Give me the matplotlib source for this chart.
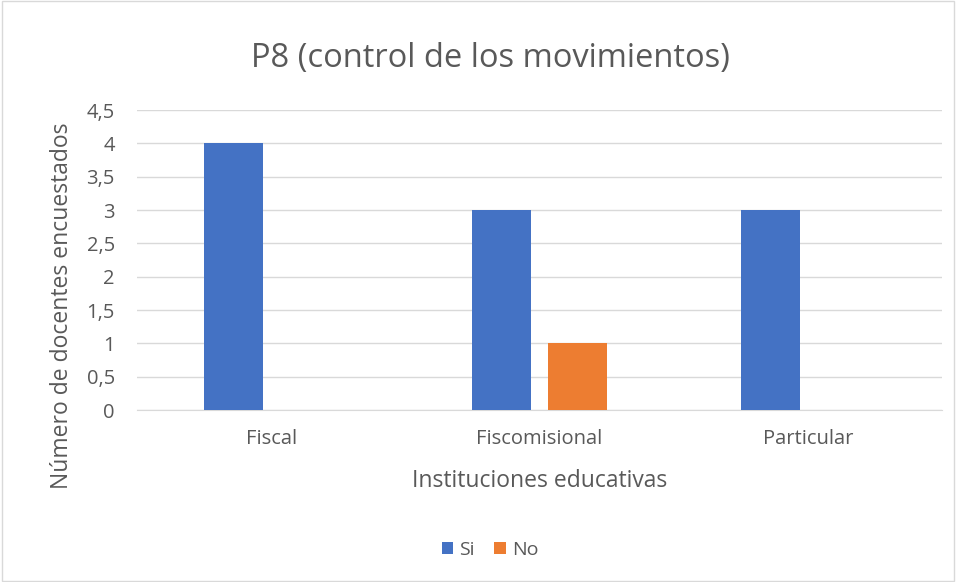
import matplotlib.pyplot as plt
import numpy as np
from matplotlib.patches import Rectangle

categories = ['Fiscal', 'Fiscomisional', 'Particular']
si_values = [4, 3, 3]
no_values = [0, 1, 0]
y_ticks = [0, 0.5, 1, 1.5, 2, 2.5, 3, 3.5, 4, 4.5]
y_tick_labels = ['0', '0,5', '1', '1,5', '2', '2,5', '3', '3,5', '4', '4,5']

plt.rcParams['font.family'] = ['Open Sans', 'DejaVu Sans']
txt = '#595959'

fig = plt.figure(figsize=(9.56, 5.82), dpi=100)
ax = fig.add_axes([137 / 956, 1 - 410 / 582, 805 / 956, 300 / 582])

x = np.arange(len(categories))
width = 0.22
offset = 0.14
ax.bar(x - offset, si_values, width, color='#4472C4', label='Si', zorder=3)
ax.bar(x + offset, no_values, width, color='#ED7D31', label='No', zorder=3)

ax.set_xlim(-0.5, len(categories) - 0.5)
ax.set_ylim(0, 4.5)
ax.set_yticks(y_ticks)
ax.set_yticklabels(y_tick_labels, fontsize=14.5, color=txt)
ax.set_xticks(x)
ax.set_xticklabels(categories, fontsize=14.5, color=txt)
ax.tick_params(axis='x', length=0, pad=14)
ax.tick_params(axis='y', length=0, pad=16)
ax.grid(axis='y', color='#D9D9D9', linewidth=1, zorder=0)
for s in ['top', 'right', 'left']:
    ax.spines[s].set_visible(False)
ax.spines['bottom'].set_color('#D9D9D9')

ax.set_xlabel('Instituciones educativas', fontsize=16.5, color=txt)
ax.xaxis.label.set_va('center')
ax.xaxis.set_label_coords(0.5, (410 - 481) / 300)
ax.set_ylabel('Número de docentes encuestados', fontsize=16.5, color=txt)
ax.yaxis.label.set_va('center')
ax.yaxis.set_label_coords((62 - 137) / 805, (410 - 306) / 300)
fig.text(490 / 956, 1 - 58 / 582, 'P8 (control de los movimientos)', fontsize=23.5,
         color=txt, ha='center', va='center')

ax.legend(loc='center', bbox_to_anchor=(490 / 956, 1 - 550 / 582), bbox_transform=fig.transFigure,
          ncol=2, frameon=False, fontsize=14, handlelength=0.6, handleheight=0.6,
          columnspacing=1.0, handletextpad=0.3, labelcolor=txt)

fig.patches.append(Rectangle((0.002, 0.002), 0.996, 0.996, transform=fig.transFigure,
                             fill=False, edgecolor='#D9D9D9', linewidth=1))

fig.savefig('out.png', dpi=100)
